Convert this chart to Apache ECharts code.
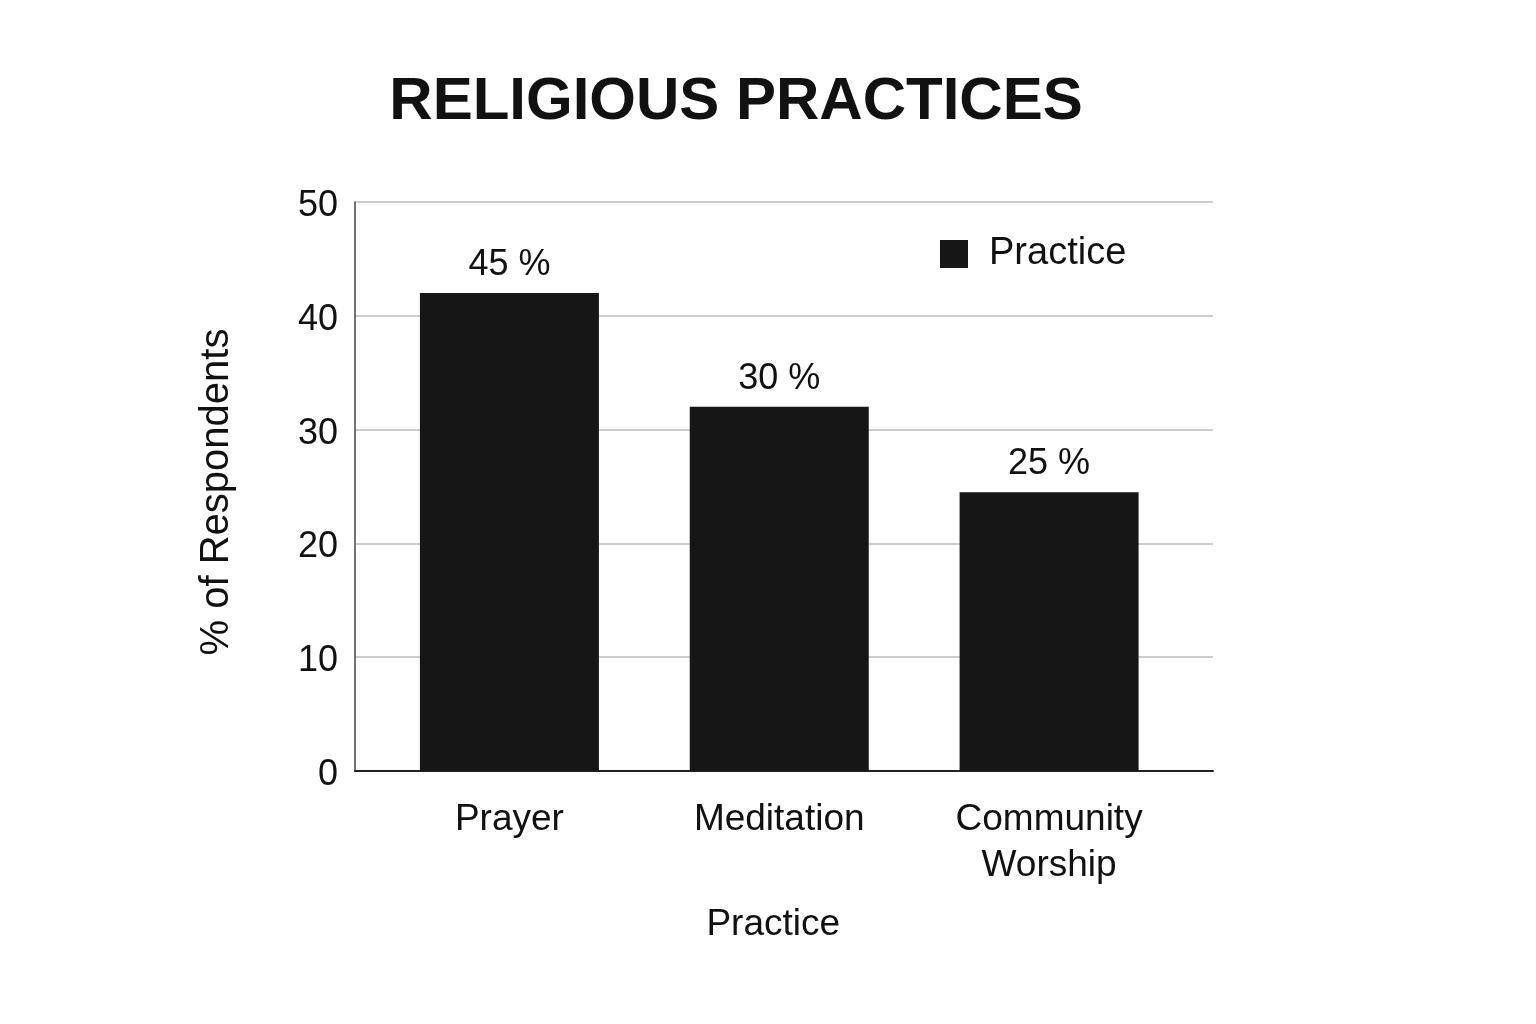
<!DOCTYPE html>
<html>
<head>
<meta charset="utf-8">
<script src="https://cdn.jsdelivr.net/npm/echarts@6/dist/echarts.min.js"></script>
<style>
  html, body { margin: 0; padding: 0; background: #fff; }
  #app { width: 1536px; height: 1024px; }
</style>
</head>
<body>
<div id="app"></div>
<script>
const categories = ['Prayer', 'Meditation', 'Community\nWorship'];
const values = [42, 32, 24.5];
const valueLabels = ['45 %', '30 %', '25 %'];
const yTicks = [0, 10, 20, 30, 40, 50];

const font = 'Liberation Sans';
const ink = '#111';

const buildOption = () => ({
  animation: false,
  backgroundColor: '#fff',
  title: {
    text: 'RELIGIOUS PRACTICES',
    left: 731,
    top: 67,
    textAlign: 'center',
    textStyle: { fontFamily: font, fontWeight: 'bold', fontSize: 60, color: ink }
  },
  legend: {
    left: 935,
    top: 230,
    itemWidth: 28,
    itemHeight: 28,
    icon: 'rect',
    data: ['Practice'],
    textStyle: { fontFamily: font, fontSize: 38, color: ink, padding: [0, 0, 0, 16] }
  },
  grid: [
    { left: 355, right: 323, top: 202, bottom: 253 },
    { left: 374.5, right: 352, top: 202, bottom: 253 }
  ],
  xAxis: [
    {
      type: 'value', gridIndex: 0, min: 0, max: 1,
      axisLine: { show: true, lineStyle: { color: '#222', width: 2 } },
      axisTick: { show: false }, axisLabel: { show: false }, splitLine: { show: false }
    },
    {
      type: 'category', gridIndex: 1, data: categories,
      axisLine: { show: false }, axisTick: { show: false },
      axisLabel: { margin: 26, fontFamily: font, fontSize: 37, color: ink, lineHeight: 46 },
      name: 'Practice', nameLocation: 'middle', nameGap: 135,
      nameTextStyle: { fontFamily: font, fontSize: 37, color: ink, padding: [0, 12, 0, 0] }
    }
  ],
  yAxis: [
    {
      type: 'value', gridIndex: 0, min: yTicks[0], max: yTicks[yTicks.length - 1], interval: 10,
      axisLine: { show: true, lineStyle: { color: '#444', width: 1.5 } },
      axisTick: { show: false },
      axisLabel: {
        margin: 17,
        formatter: '{v|{value}}',
        rich: { v: { fontFamily: font, fontSize: 36, color: ink, padding: [8, 0, 0, 0] } }
      },
      splitLine: { show: true, lineStyle: { color: '#bdbdbd', width: 1.5 } },
      name: '% of Respondents', nameLocation: 'middle', nameGap: 118, nameRotate: 90,
      nameTextStyle: { fontFamily: font, fontSize: 40, color: ink, padding: [0, 11, 0, 0] }
    },
    {
      type: 'value', gridIndex: 1, min: 0, max: 50, show: false
    }
  ],
  series: [
    {
      name: 'Practice',
      type: 'bar',
      xAxisIndex: 1,
      yAxisIndex: 1,
      data: values,
      barWidth: 179,
      itemStyle: { color: '#161616' },
      label: {
        show: true,
        position: 'top',
        distance: 10,
        fontFamily: font,
        fontSize: 36,
        color: ink,
        formatter: p => valueLabels[p.dataIndex]
      }
    }
  ]
});

const chart = echarts.init(document.getElementById('app'));
chart.setOption(buildOption());
</script>
</body>
</html>
